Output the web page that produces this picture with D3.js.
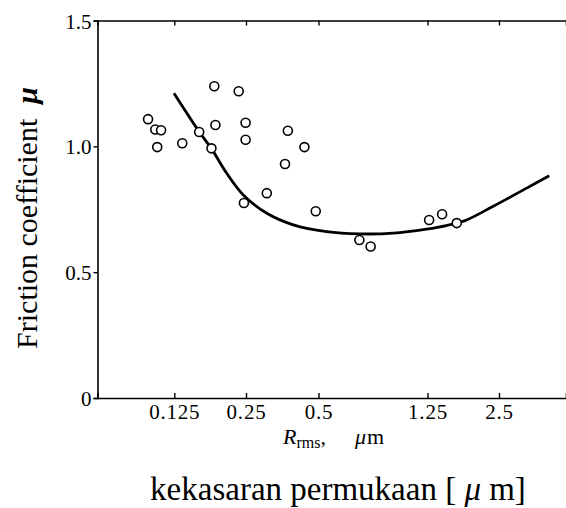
<!DOCTYPE html>
<html>
<head>
    <meta charset="utf-8" />
    <title>Friction coefficient vs roughness</title>
    <style>
        html, body {
            margin: 0;
            padding: 0;
            background-color: #fff;
        }
        svg text {
            font-family: 'Liberation Serif', 'Times New Roman', serif;
            fill: #000;
        }
    </style>
</head>
<body>
    <div class="canvas"></div>
    <script src="https://d3js.org/d3.v7.min.js"></script>
    <script>
        // tick labels
        var xTicks = [0.125, 0.25, 0.5, 1.25, 2.5];
        var yTicks = [0, 0.5, 1.0, 1.5];

        // measured points (R_rms in um, friction coefficient)
        var roughness = [0.097, 0.104, 0.110, 0.106, 0.135, 0.159, 0.179, 0.184, 0.186, 0.233, 0.249, 0.249,
                         0.245, 0.305, 0.373, 0.363, 0.437, 0.487, 0.705, 0.775, 1.27, 1.44, 1.66];
        var friction  = [1.108, 1.067, 1.064, 0.997, 1.012, 1.057, 0.992, 1.239, 1.085, 1.219, 1.094, 1.026,
                         0.775, 0.814, 1.062, 0.930, 0.997, 0.742, 0.628, 0.602, 0.707, 0.730, 0.695];

        // fitted curve
        var fitX = [0.1246, 0.159, 0.179, 0.2075, 0.2435, 0.305, 0.393, 0.535, 0.709, 0.938, 1.241, 1.50, 1.80, 2.365, 3.27, 4.07];
        var fitY = [1.211, 1.058, 0.991, 0.893, 0.807, 0.734, 0.688, 0.661, 0.652, 0.655, 0.671, 0.685, 0.705, 0.762, 0.834, 0.883];

        var width = 566, height = 508;
        // (don't call it "top", that is window.top)
        var plotL = 97.5, plotR = 566, plotT = 20.5, plotB = 398;

        var svg = d3.select(".canvas")
                    .append("svg")
                    .attr("width", width)
                    .attr("height", height);

        // the printed axis is not quite a clean log scale, so use a piecewise log scale
        var x = d3.scaleLog()
                  .domain([0.0595, 0.125, 0.25, 0.5, 1.25, 2.5, 4.79])
                  .range([plotL, 174.3, 246, 318.5, 427.5, 499, plotR]);

        var y = d3.scaleLinear()
                  .domain([0, 1.5])
                  .range([plotB, plotT]);

        // bottom axis, ticks pointing inward
        var xAxis = svg.append("g")
            .attr("transform", "translate(0," + plotB + ")")
            .call(d3.axisBottom(x).tickValues(xTicks).tickSize(-5).tickPadding(6)
                  .tickFormat(function(d){ return String(d); }));

        // top frame line with inward ticks
        var topAxis = svg.append("g")
            .attr("transform", "translate(0," + plotT + ")")
            .call(d3.axisTop(x).tickValues(xTicks).tickSize(-5).tickFormat(""));

        var yAxis = svg.append("g")
            .attr("transform", "translate(" + plotL + ",0)")
            .call(d3.axisLeft(y).tickValues(yTicks).tickSize(4).tickPadding(2)
                  .tickFormat(function(d){ return d === 0 ? "0" : d.toFixed(1); }));

        svg.selectAll(".domain")
            .attr("stroke", "#000")
            .attr("stroke-width", 1.6);
        svg.selectAll(".tick line")
            .attr("stroke", "#000")
            .attr("stroke-width", 1.4);

        xAxis.selectAll(".tick text")
            .style("font-size", "21px")
            .attr("letter-spacing", "0.8px");
        yAxis.selectAll(".tick text")
            .style("font-size", "21px")
            .attr("dy", "0.36em");

        // fitted curve
        var line = d3.line()
            .x(function(d){ return x(d[0]); })
            .y(function(d){ return y(d[1]); })
            .curve(d3.curveCatmullRom);

        svg.append("path")
            .datum(d3.zip(fitX, fitY))
            .attr("d", line)
            .attr("fill", "none")
            .attr("stroke", "#000")
            .attr("stroke-width", 2.8);

        // data points
        svg.append("g")
            .selectAll("circle")
            .data(d3.zip(roughness, friction))
            .join("circle")
            .attr("cx", function(d){ return x(d[0]); })
            .attr("cy", function(d){ return y(d[1]); })
            .attr("r", 4.5)
            .attr("fill", "#fff")
            .attr("stroke", "#000")
            .attr("stroke-width", 1.6);

        // axis titles
        var xt = svg.append("text")
            .attr("x", 283)
            .attr("y", 444)
            .style("font-size", "22px");
        xt.append("tspan").style("font-style", "italic").text("R");
        xt.append("tspan").attr("dy", 4).style("font-size", "16px").text("rms");
        xt.append("tspan").attr("dy", -4).text(",");
        xt.append("tspan").attr("x", 355).style("font-style", "italic").text("\u03bc");
        xt.append("tspan").attr("dx", 1).text("m");

        var bt = svg.append("text")
            .attr("x", 338)
            .attr("y", 500)
            .attr("text-anchor", "middle")
            .style("font-size", "33px");
        bt.append("tspan").text("kekasaran permukaan [\u00a0");
        bt.append("tspan").style("font-style", "italic").text("\u03bc");
        bt.append("tspan").text("\u00a0m]");

        var yt = svg.append("text")
            .attr("transform", "translate(37,218) rotate(-90)")
            .attr("text-anchor", "middle")
            .style("font-size", "30px");
        yt.append("tspan").text("Friction coefficient\u00a0\u00a0");
        yt.append("tspan").style("font-style", "italic").style("font-weight", "bold").text("\u03bc");
    </script>
</body>
</html>
